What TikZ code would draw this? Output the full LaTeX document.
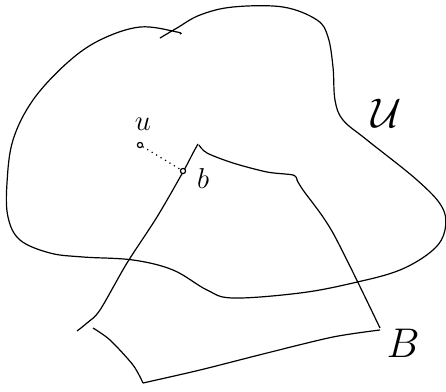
\documentclass[tikz,border=0pt]{standalone}
\usepackage{amsmath,amssymb}
\usepackage{tikz}
\usepackage{xcolor}

\begin{document}
\begin{tikzpicture}[x=0.5pt,y=-0.5pt,line width=0.6pt,font=\large,
  pt/.style={circle,draw,fill=white,inner sep=0pt,minimum size=2.6pt}]
\useasboundingbox (0,0) rectangle (446,392);
\draw plot[smooth,tension=0.6] coordinates {(160,38) (177,28) (200,15) (233,7) (283,7) (317,20) (328,37) (333,67) (335,100) (343,120) (367,140) (417,180) (442,207) (445,230) (433,250) (400,270) (353,283) (300,293) (233,298) (207,290) (173,270) (133,260) (83,257) (50,253) (20,240) (8,217) (7,183) (13,140) (33,100) (67,63) (100,40) (140,27) (177,32) (180,34)};
\draw plot[smooth,tension=0.5] coordinates {(77,331) (87,323) (100,310) (127,263) (157,217) (183,172) (193,153) (198,144)};
\draw plot[smooth,tension=0.5] coordinates {(199,145) (207,153) (233,163) (267,172) (293,175) (297,180)};
\draw plot[smooth,tension=0.5] coordinates {(297,180) (303,190) (333,233) (380,328)};
\draw plot[smooth,tension=0.5] coordinates {(380,330) (333,337) (267,353) (200,370) (143,383)};
\draw plot[smooth,tension=0.5] coordinates {(143,383) (133,365) (110,340) (93,328)};
\node[pt] (u) at (140,145) {};
\node[pt] (b) at (183,171) {};
\draw[dotted] (u) -- (b);
\node[font=\Large] at (143,124) {$u$};
\node[font=\Large] at (203,178) {$b$};
\node[font=\huge] at (387,113) {$\mathcal{U}$};
\node[font=\huge] at (403,343) {$B$};
\end{tikzpicture}
\end{document}
